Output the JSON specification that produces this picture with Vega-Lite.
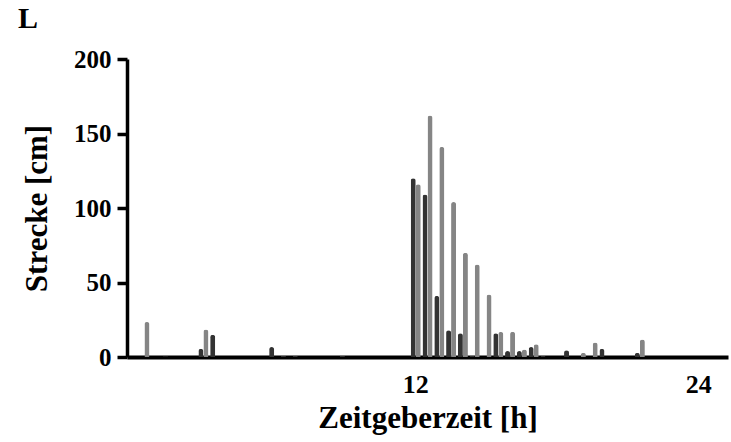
{
  "$schema": "https://vega.github.io/schema/vega-lite/v6.json",
  "autosize": "none",
  "width": 601,
  "height": 298,
  "padding": {"left": 127, "top": 59, "right": 3, "bottom": 85},
  "background": "white",
  "title": {"text": "L", "anchor": "start", "frame": "group", "dx": -109, "offset": 13, "font": "Liberation Serif", "fontWeight": "bold", "fontSize": 30, "color": "black"},
  "data": {"values": [
    {"t": 1.5, "Gruppe": "A", "value": 0.5},
    {"t": 3, "Gruppe": "A", "value": 5.6},
    {"t": 3.5, "Gruppe": "A", "value": 15},
    {"t": 6, "Gruppe": "A", "value": 6.7},
    {"t": 6.5, "Gruppe": "A", "value": 0.6},
    {"t": 7, "Gruppe": "A", "value": 0.6},
    {"t": 9, "Gruppe": "A", "value": 0.6},
    {"t": 12, "Gruppe": "A", "value": 120},
    {"t": 12.5, "Gruppe": "A", "value": 109},
    {"t": 13, "Gruppe": "A", "value": 41},
    {"t": 13.5, "Gruppe": "A", "value": 18},
    {"t": 14, "Gruppe": "A", "value": 16},
    {"t": 14.5, "Gruppe": "A", "value": 0.6},
    {"t": 15.5, "Gruppe": "A", "value": 16},
    {"t": 16, "Gruppe": "A", "value": 4},
    {"t": 16.5, "Gruppe": "A", "value": 4},
    {"t": 17, "Gruppe": "A", "value": 6.7},
    {"t": 17.5, "Gruppe": "A", "value": 0.6},
    {"t": 18.5, "Gruppe": "A", "value": 4.6},
    {"t": 20, "Gruppe": "A", "value": 5.6},
    {"t": 21.5, "Gruppe": "A", "value": 2.7},
    {"t": 0.5, "Gruppe": "B", "value": 23.5},
    {"t": 3, "Gruppe": "B", "value": 18.4},
    {"t": 12, "Gruppe": "B", "value": 116},
    {"t": 12.5, "Gruppe": "B", "value": 162},
    {"t": 13, "Gruppe": "B", "value": 141},
    {"t": 13.5, "Gruppe": "B", "value": 104},
    {"t": 14, "Gruppe": "B", "value": 70},
    {"t": 14.5, "Gruppe": "B", "value": 62},
    {"t": 15, "Gruppe": "B", "value": 42},
    {"t": 15.5, "Gruppe": "B", "value": 16.8},
    {"t": 16, "Gruppe": "B", "value": 17},
    {"t": 16.5, "Gruppe": "B", "value": 5},
    {"t": 17, "Gruppe": "B", "value": 8.5},
    {"t": 19, "Gruppe": "B", "value": 2.7},
    {"t": 19.5, "Gruppe": "B", "value": 9.7},
    {"t": 21.5, "Gruppe": "B", "value": 11.7}
  ]},
  "mark": {"type": "bar", "cornerRadiusTopLeft": 2.5, "cornerRadiusTopRight": 2.5},
  "encoding": {
    "x": {
      "field": "t", "type": "ordinal",
      "scale": {"domain": [0,0.5,1,1.5,2,2.5,3,3.5,4,4.5,5,5.5,6,6.5,7,7.5,8,8.5,9,9.5,10,10.5,11,11.5,12,12.5,13,13.5,14,14.5,15,15.5,16,16.5,17,17.5,18,18.5,19,19.5,20,20.5,21,21.5,22,22.5,23,23.5,24,24.5,25], "paddingInner": 0.15, "paddingOuter": 0.05},
      "axis": {
        "title": "Zeitgeberzeit [h]", "values": [12, 24], "labelAngle": 0,
        "ticks": false, "domainWidth": 4, "domainColor": "black",
        "labelFont": "Liberation Serif", "labelFontWeight": "bold", "labelFontSize": 26, "labelColor": "black", "labelPadding": 14,
        "titleFont": "Liberation Serif", "titleFontWeight": "bold", "titleFontSize": 31, "titleColor": "black", "titlePadding": 6
      }
    },
    "xOffset": {"field": "Gruppe", "type": "nominal", "scale": {"domain": ["A", "B"], "paddingInner": 0, "paddingOuter": 0}},
    "y": {
      "field": "value", "type": "quantitative",
      "scale": {"domain": [0, 200], "nice": false},
      "axis": {
        "title": "Strecke [cm]", "values": [0, 50, 100, 150, 200], "grid": false,
        "domainWidth": 3.5, "domainColor": "black", "tickSize": 10, "tickWidth": 3.5, "tickColor": "black",
        "labelFont": "Liberation Serif", "labelFontWeight": "bold", "labelFontSize": 25, "labelColor": "black", "labelPadding": 6,
        "titleFont": "Liberation Serif", "titleFontWeight": "bold", "titleFontSize": 31, "titleColor": "black", "titlePadding": 20
      }
    },
    "color": {"field": "Gruppe", "type": "nominal", "scale": {"domain": ["A", "B"], "range": ["#333333", "#858585"]}, "legend": null}
  },
  "config": {"view": {"stroke": null}}
}
